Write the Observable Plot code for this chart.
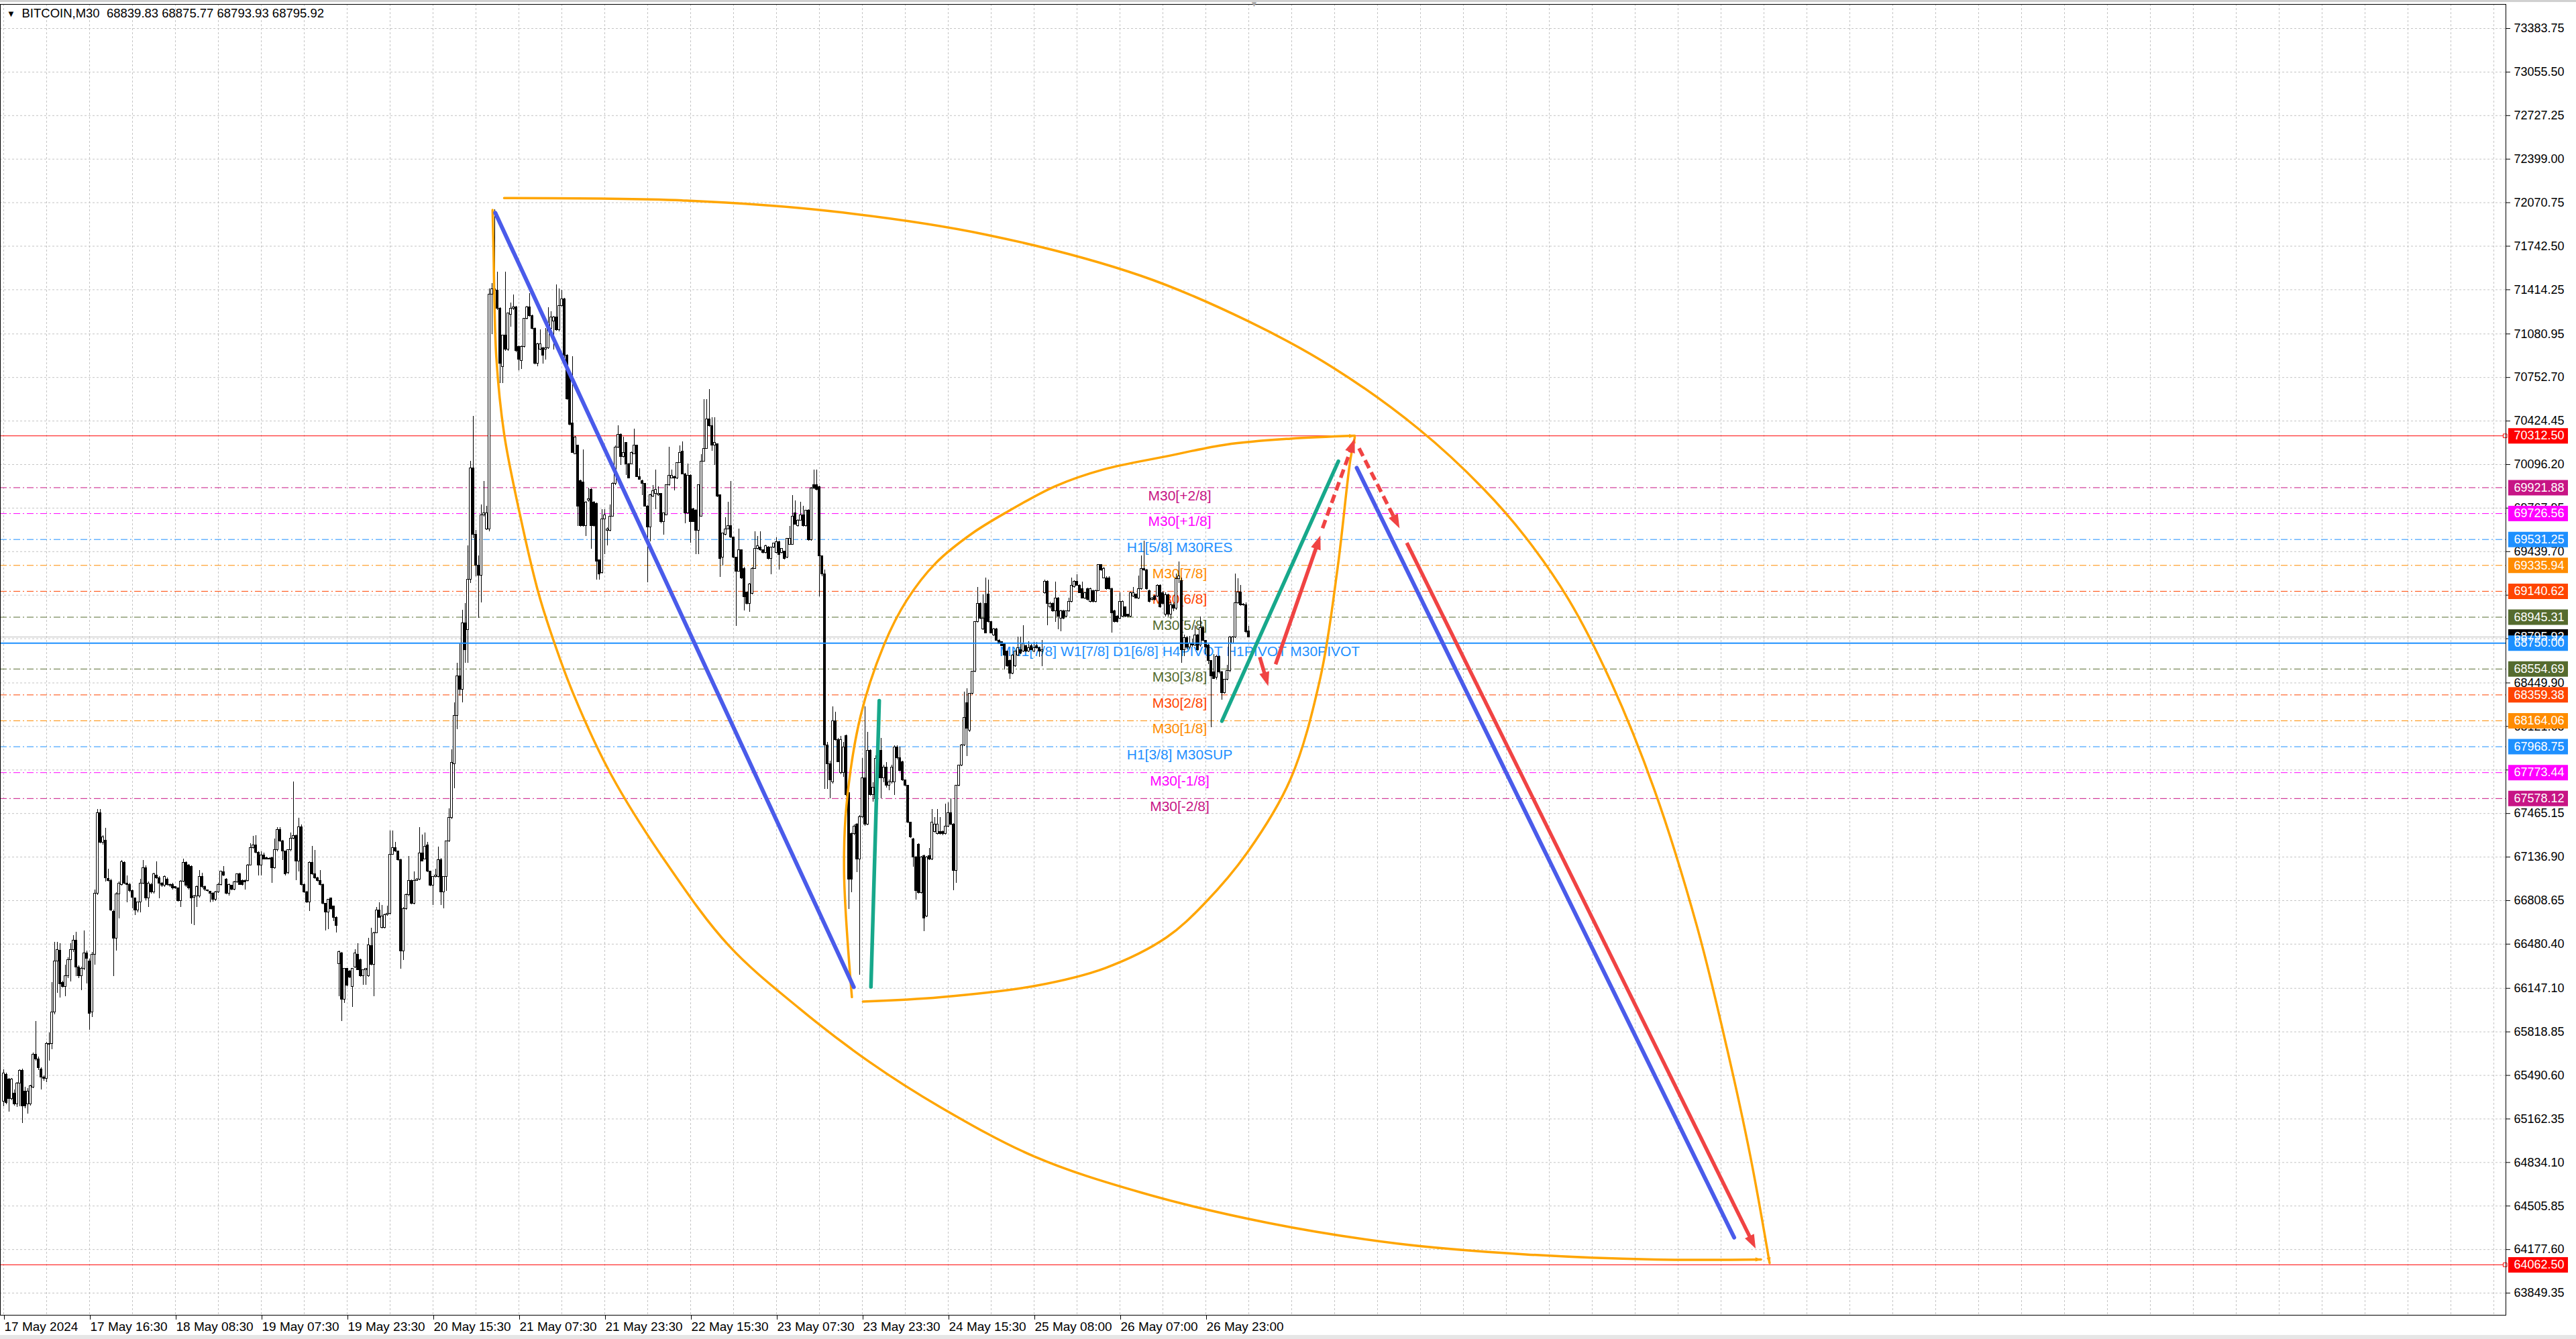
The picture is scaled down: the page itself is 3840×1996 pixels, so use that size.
<!DOCTYPE html>
<html><head><meta charset="utf-8">
<script src="https://cdn.jsdelivr.net/npm/d3@7"></script>
<script src="https://cdn.jsdelivr.net/npm/@observablehq/plot@0.6"></script>
<style>
html,body{margin:0;padding:0;background:#fff;}
body{width:3840px;height:1996px;overflow:hidden;position:relative;}
#chart{position:absolute;left:0;top:0;}
#topstrip{position:absolute;left:0;top:0;width:3840px;height:3px;background:#d0d0d0;}
#botstrip{position:absolute;left:0;top:1990px;width:3840px;height:6px;background:#e6e6e6;}
</style></head><body>
<div id="chart"></div>
<div id="topstrip"></div>
<div id="botstrip"></div>
<script>
// ---------- DATA ----------
const header = "BITCOIN,M30  68839.83 68875.77 68793.93 68795.92";
const firstBar = 1;
// M30 candles [open, high, low, close], bar index starts at firstBar
const candles = [
[65294,65535,65256,65506],[65496,65510,65270,65285],[65458,65470,65217,65313],[65313,65470,65300,65458],[65352,65380,65260,65275],
[65275,65440,65250,65429],[65429,65535,65256,65525],[65525,65540,65131,65256],[65371,65400,65240,65256],[65275,65390,65198,65371],
[65275,65420,65260,65410],[65400,65660,65390,65650],[65650,65900,65600,65612],[65612,65630,65530,65545],[65534,65550,65380,65477],
[65477,65490,65450,65467],[65467,65740,65440,65727],[65721,65813,65602,65727],[65727,66189,65688,65967],[65967,66496,65950,66352],
[66352,66496,66112,66439],[66433,66487,66073,66179],[66189,66200,66150,66160],[66160,66323,66083,66237],[66237,66380,66220,66362],
[66362,66487,66198,66439],[66439,66545,66420,66506],[66506,66573,66237,66304],[66304,66320,66220,66237],[66237,66310,66131,66295],
[66295,66583,66280,66410],[66410,66430,66179,66371],[66352,66370,65833,65958],[65967,66420,65929,66400],[66400,66891,66323,66862],
[66862,67497,66850,67468],[67468,67497,67240,67247],[67247,67300,67230,67285],[67260,67356,66949,66977],[66972,67045,66950,66958],
[66958,66970,66730,66737],[66727,66740,66237,66525],[66525,66870,66429,66856],[66856,66950,66670,66939],[66929,67112,66920,67097],
[67093,67100,66930,66939],[66939,66997,66795,66929],[66929,66940,66870,66881],[66881,66890,66747,66833],[66824,66830,66698,66737],
[66737,66800,66718,66795],[66795,66972,66718,66939],[66939,67112,66930,67054],[67054,67070,66810,66824],[66824,66950,66756,66939],
[66929,66940,66860,66872],[66872,67015,66860,67006],[66997,67102,66970,66977],[66977,66990,66824,66939],[66935,66945,66910,66920],
[66920,66995,66910,66987],[66968,66980,66920,66929],[66929,66935,66910,66920],[66929,66940,66890,66901],[66910,66915,66895,66901],
[66901,66905,66800,66805],[66805,66960,66756,66952],[66952,67122,66945,67093],[67093,67100,66910,66920],[67074,67080,66890,66901],
[67064,67070,66631,66824],[66833,66850,66621,66843],[66843,66920,66756,66910],[66843,67035,66830,66987],[66987,67016,66900,66910],
[66910,66920,66880,66891],[66885,66890,66875,66881],[66875,66880,66795,66862],[66862,66870,66800,66814],[66814,66880,66805,66872],
[66872,66940,66865,66929],[66929,67030,66920,67026],[67022,67064,66990,66997],[66968,66975,66855,66862],[66862,66935,66843,66929],
[66920,66925,66885,66891],[66891,66955,66885,66949],[66949,67010,66940,67006],[67006,67015,66925,66929],[66958,66965,66920,66929],
[66958,66965,66891,66949],[66958,67080,66950,67074],[67074,67237,67070,67208],[67208,67295,67200,67228],[67228,67299,67160,67170],
[67170,67180,66997,67074],[67074,67179,66997,67151],[67151,67170,67115,67122],[67131,67135,67115,67122],[67126,67130,67115,67122],
[67131,67135,66939,67054],[67054,67272,67045,67189],[67189,67362,67180,67343],[67343,67362,67250,67256],[67256,67265,67112,67179],
[67179,67185,66995,67006],[67016,67195,67005,67189],[67189,67318,67180,67276],[67276,67703,67270,67295],[67295,67305,66958,67102],
[67102,67430,67026,67362],[67362,67380,66920,66929],[66929,66935,66865,66872],[66872,66880,66790,66795],[66795,67100,66727,67093],
[67093,67218,67000,67006],[67006,67189,66970,66977],[66977,66985,66950,66958],[66958,67035,66920,66929],[66929,66935,66780,66785],
[66785,66790,66583,66718],[66718,66820,66592,66814],[66824,66830,66740,66747],[66766,66770,66650,66679],[66679,66685,66564,66621],
[66333,66429,66083,66419],[66410,66420,65900,66064],[66064,66300,66035,66295],[66295,66300,66160,66169],[66275,66280,66220,66227],
[66160,66300,66006,66295],[66304,66439,66300,66410],[66400,66487,66280,66285],[66362,66370,66230,66237],[66237,66285,66169,66285],
[66285,66300,66169,66295],[66237,66525,66230,66471],[66467,66602,66320,66323],[66323,66570,66083,66564],[66564,66756,66560,66733],
[66733,66795,66675,66679],[66602,66775,66595,66689],[66602,66705,66595,66698],[66698,66766,66690,66708],[66708,67337,66700,67156],
[67156,67333,67150,67208],[67208,67247,67175,67179],[67179,67185,67105,67112],[67112,67120,66295,66429],[66429,66760,66356,66747],
[66747,66860,66740,66849],[66849,67141,66840,66958],[66958,66965,66780,66785],[66785,67026,66780,66958],[66958,66975,66955,66968],
[66968,67362,66960,67166],[67166,67305,67100,67106],[67122,67318,67115,67218],[67228,67247,67020,67026],[67026,67030,66915,66920],
[66920,66990,66775,66987],[66987,67045,66980,66997],[66987,67212,66980,67116],[67116,67125,66775,66872],[66872,66990,66747,66987],
[66987,67260,66881,67256],[67256,67503,67250,67433],[67433,67945,67420,67849],[67837,68300,67651,68200],[68200,68600,68100,68500],
[68500,68750,68350,68400],[68400,69000,68300,68900],[68900,69050,68600,68700],[68850,69482,68600,69227],[69227,70121,69200,70068],
[70068,70462,69540,69567],[69567,69600,69250,69333],[69333,69408,68939,69259],[69259,69791,69056,69716],[69716,69972,69700,69727],
[69610,69780,69600,69727],[69610,71420,69590,71377],[71377,71462,71079,71420],[71420,72016,71300,71409],[71409,71547,71260,71271],
[71271,71280,70706,70855],[70834,71068,70706,71068],[71068,71547,70950,70962],[70962,71239,70950,71239],[71228,71313,71132,71271],
[71271,71377,71260,71281],[71281,71290,70940,70951],[70983,70990,70802,70887],[70877,70990,70813,70983],[70983,71200,70975,71196],
[71196,71292,71190,71281],[71281,71388,71210,71217],[71217,71225,71115,71122],[71122,71130,70850,70855],[70855,71010,70834,71004],
[70962,71111,70955,71004],[70973,70980,70855,70919],[70962,71122,70887,70973],[70973,71281,70965,71122],[71122,71249,71115,71207],
[71175,71215,70962,71207],[71207,71451,71105,71111],[71111,71420,71100,71292],[71292,71409,71285,71345],[71345,71350,70887,70919],
[70919,70925,70580,70589],[70792,70800,70390,70398],[70408,70909,70180,70185],[70174,70310,70170,70302],[70238,70245,69631,69780],
[69972,69980,69625,69631],[69961,70206,69625,69631],[69631,69820,69557,69812],[69823,69919,69815,69834],[69908,69915,69461,69631],
[69812,69820,69625,69631],[69802,69810,69227,69365],[69375,69380,69227,69269],[69280,69759,69270,69684],[69684,69759,69418,69716],
[69599,69620,69482,69610],[69599,69791,69590,69706],[69706,69960,69700,69950],[69950,70238,69940,70227],[70227,70387,70220,70323],
[70323,70330,70089,70153],[70153,70302,70145,70185],[70259,70265,70014,70100],[70100,70105,69990,69993],[70100,70190,70095,70185],
[70174,70366,70170,70238],[70238,70245,70000,70004],[70004,70068,69980,69983],[69972,69980,69865,69950],[69950,69955,69775,69780],
[69780,69790,69205,69621],[69621,69876,69514,69865],[69855,69940,69850,69897],[69876,70057,69759,69908],[69865,69929,69860,69876],
[69876,69880,69653,69663],[69663,69730,69567,69727],[69716,69945,69710,69940],[69940,70227,69935,70014],[69993,70057,69990,70014],
[70004,70010,69897,69993],[69993,70110,69985,70110],[70110,70238,70105,70185],[70195,70270,70020,70025],[70025,70030,69653,69727],
[69727,70100,69720,70014],[70014,70020,69503,69663],[69759,69765,69660,69663],[69748,69755,69418,69599],[69599,69945,69418,69940],
[69706,70174,69700,70121],[70121,70589,70115,70217],[70217,70589,70210,70440],[70440,70664,70380,70387],[70387,70451,70195,70238],
[70238,70451,70089,70259],[70249,70255,69850,69855],[69865,69870,69248,69386],[69397,69580,69333,69578],[69567,69695,69560,69610],
[69610,69812,69605,69631],[69631,69972,69540,69546],[69546,69550,69390,69397],[69397,69400,68875,69291],[69291,69610,69285,69450],
[69450,69455,69230,69237],[69312,69320,68992,69099],[69131,69135,69040,69046],[69046,69200,68982,69195],[69120,69320,69115,69312],
[69312,69589,69305,69461],[69461,69557,69455,69482],[69471,69589,69445,69450],[69450,69455,69425,69429],[69429,69490,69425,69482],
[69471,69480,69380,69386],[69386,69475,69269,69471],[69471,69505,69465,69503],[69429,69546,69425,69514],[69514,69520,69301,69418],
[69429,69465,69425,69461],[69440,69445,69380,69386],[69397,69540,69390,69535],[69493,69631,69488,69535],[69493,69865,69488,69706],
[69727,69823,69640,69642],[69631,69680,69625,69674],[69674,69812,69670,69716],[69716,69780,69625,69631],[69631,69750,69625,69748],
[69748,69755,69520,69525],[69525,69925,69520,69919],[69940,70057,69910,69919],[69940,70057,69900,69908],[69929,69935,69100,69408],
[69408,69410,69250,69269],[69269,69300,67646,67979],[67979,68000,67646,67840],[67840,67860,67577,67715],[67702,68270,67690,68159],
[68159,68230,68010,68020],[68020,68030,67850,67854],[67771,68050,67760,68020],[67771,68000,67740,67965],[68048,68060,67590,67604],
[67618,67625,66744,66966],[67313,67320,66869,66966],[67313,67380,67300,67368],[67382,67390,67022,67119],[67119,67450,66245,67438],
[67438,67882,67430,67729],[67729,68270,67370,67382],[67382,68076,67375,67937],[67937,67945,67600,67604],[67604,67700,67550,67660],
[67577,67900,67550,67880],[67880,67950,67720,67729],[67937,68034,67577,67729],[67729,67830,67700,67812],[67812,67850,67660,67674],
[67674,67720,67640,67702],[67702,67830,67690,67812],[67702,67975,67604,67965],[67965,67979,67870,67882],[67882,67965,67780,67785],
[67854,67860,67710,67715],[67715,67720,67670,67674],[67674,67680,67390,67396],[67396,67400,67280,67285],[67271,67280,67063,67133],
[67133,67140,66814,66883],[67230,67240,66860,66869],[66869,67140,66860,67133],[67146,67150,66578,66675],[66689,67140,66680,67133],
[67146,67202,67110,67119],[67119,67494,67110,67396],[67327,67438,67320,67382],[67313,67494,67305,67382],[67327,67438,67305,67313],
[67327,67335,67300,67313],[67313,67535,67305,67368],[67368,67549,67360,67466],[67466,67577,67375,67382],[67382,67390,66883,67036],
[67036,67680,66939,67674],[67674,67830,67670,67826],[67826,67985,67820,67979],[67979,68381,67970,68187],[68298,68409,67896,68104],
[68090,68370,68080,68367],[68367,68540,68360,68534],[68534,68910,68530,68908],[68908,69172,68900,69047],[69047,69055,68930,68936],
[68853,69116,68845,68936],[69047,69241,68820,68825],[69116,69227,68900,68908],[68908,68915,68820,68825],[68811,68860,68800,68853],
[68853,68860,68765,68769],[68769,68775,68740,68742],[68756,68760,68725,68728],[68742,68750,68548,68658],[68686,68690,68570,68575],
[68617,68625,68478,68520],[68520,68665,68515,68658],[68575,68690,68570,68686],[68658,68797,68650,68714],[68700,68797,68665,68672],
[68686,68880,68680,68742],[68728,68735,68680,68686],[68686,68760,68680,68714],[68728,68740,68695,68700],[68686,68756,68680,68714],
[68728,68756,68705,68714],[68714,68720,68645,68686],[68686,68769,68575,68700],[69130,69227,69120,69213],[69213,69220,68880,69047],
[69019,69060,69010,69047],[69047,69055,68985,68992],[68992,69213,68908,69089],[69089,69095,68853,68950],[68936,69000,68839,68992],
[68992,68998,68930,68936],[68950,68995,68945,68992],[68992,69089,68985,69061],[69061,69241,69055,69185],[69172,69220,69165,69213],
[69213,69269,69180,69185],[69185,69190,69125,69130],[69158,69213,69085,69089],[69089,69135,69080,69130],[69158,69165,69070,69075],
[69061,69165,69055,69158],[69144,69150,69055,69061],[69061,69150,69055,69144],[69144,69345,69140,69338],[69338,69345,69290,69297],
[69241,69320,69235,69311],[69241,69250,69150,69158],[69241,69250,69150,69158],[69158,69165,68825,68977],[68992,69000,68900,68908],
[68950,68960,68900,68908],[68936,69130,68930,69061],[68950,69070,68945,69061],[69019,69025,68945,68950],[68964,68970,68945,68950],
[68950,69135,68945,69130],[69102,69172,69095,69130],[69116,69120,69085,69089],[69089,69255,69080,69158],[69158,69407,69150,69311],
[69311,69518,69290,69297],[69297,69305,69150,69158],[69144,69150,69055,69061],[69075,69095,69070,69089],[69102,69110,69070,69075],
[69102,69190,69095,69185],[69185,69190,69015,69019],[69130,69140,69040,69047],[68968,69130,68950,69110],[69110,69120,68950,68968],
[68968,69060,68930,69035],[69035,69050,68990,69010],[69010,69270,69000,69236],[69236,69362,69200,69253],[69219,69240,68600,68700],
[68700,68810,68650,68790],[68790,68800,68700,68716],[68716,68800,68700,68750],[68750,68780,68720,68733],[68733,68884,68725,68808],
[68808,68815,68690,68700],[68733,68950,68720,68867],[68867,68875,68760,68766],[68766,68770,68666,68716],[68733,68740,68590,68616],
[68616,68620,68112,68498],[68532,68666,68480,68481],[68490,68660,68470,68649],[68649,68655,68520,68532],[68532,68540,68322,68372],
[68372,68480,68365,68473],[68473,68582,68465,68540],[68540,68800,68530,68792],[68750,68800,68745,68792],[68792,69270,68785,69052],
[69052,69236,69045,69135],[69135,69186,69030,69035],[69043,69050,69030,69035],[69035,69052,68820,68834],[68839.83,68875.77,68793.93,68795.92]
];

// price axis ticks (right)
const yTicks = [73383.75,73055.50,72727.25,72399.00,72070.75,71742.50,71414.25,71080.95,70752.70,70424.45,70096.20,69767.95,69439.70,69111.45,
  68783.20,68449.90,68121.65,67793.40,67465.15,67136.90,66808.65,66480.40,66147.10,65818.85,65490.60,65162.35,64834.10,64505.85,64177.60,63849.35];
// time axis: bar index of each label and its text
const xTickBars = [1,33,65,97,129,161,193,225,257,289,321,353,385,417,449];
const xTickLabels = ["17 May 2024","17 May 16:30","18 May 08:30","19 May 07:30","19 May 23:30","20 May 15:30","21 May 07:30",
  "21 May 23:30","22 May 15:30","23 May 07:30","23 May 23:30","24 May 15:30","25 May 08:00","26 May 07:00","26 May 23:00"];

// Murrey math levels
const levelValues = [69921.88,69726.56,69531.25,69335.94,69140.62,68945.31,68750.00,68554.69,68359.38,68164.06,67968.75,67773.44,67578.12];
const levelColors = ["#c71585","#ff00ff","#1e90ff","#ff8c00","#ff4500","#556b2f","#1e90ff","#556b2f","#ff4500","#ff8c00","#1e90ff","#ff00ff","#c71585"];
const levelLabels = ["M30[+2/8]","M30[+1/8]","H1[5/8] M30RES","M30[7/8]","M30[6/8]","M30[5/8]","MN1[7/8] W1[7/8] D1[6/8] H4PIVOT H1PIVOT M30PIVOT",
  "M30[3/8]","M30[2/8]","M30[1/8]","H1[3/8] M30SUP","M30[-1/8]","M30[-2/8]"];
const pivotValue = 68750.00;
const labelBar = 439.25;
const targetLines = [70312.50, 64062.50];
const bidPrice = 68795.92;

// right-axis price boxes (drawn in this order)
const boxValues = [70312.50,69921.88,69726.56,69531.25,69335.94,69140.62,68945.31,68795.92,68750.00,68554.69,68359.38,68164.06,67968.75,67773.44,67578.12,64062.50];
const boxColors = ["#ff0000","#c71585","#ff00ff","#1e90ff","#ff8c00","#ff4500","#556b2f","#000000","#1e90ff","#556b2f","#ff4500","#ff8c00","#1e90ff","#ff00ff","#c71585","#ff0000"];

// drawn objects: [bar, price] points
const arcOuterTop = [[187.5,72105],[255.4,72086],[309.75,72005],[367,71830],[424.75,71520],[464.6,71179],[496.5,70826],[528.4,70363],
  [552.3,69917],[568.25,69546],[584.2,69079],[600.1,68452],[616.1,67647],[632,66617],[643.2,65696],[651.95,64879],[659.1,64076]];
const arcOuterBottom = [[183.2,72016],[183.5,71754],[184.6,70903],[187.5,70328],[193.25,69732],[199.9,69157],[204.7,68842],[213.3,68367],
  [227.4,67757],[248.4,67080],[271.2,66470],[297.5,65996],[323.8,65590],[350.1,65251],[385.2,64878],[424.75,64608],[472.6,64377],
  [520.4,64223],[568.25,64141],[616.1,64103],[655.9,64103]];
const arcInnerUpper = [[317.1,66081],[314.2,67012],[315.05,67520],[320.3,68197],[329.1,68739],[337.6,69075],[348.3,69352],[361.7,69574],
  [375.1,69741],[393,69934],[410.8,70059],[434.75,70160],[456.6,70247],[480.55,70291],[504.5,70313]];
const arcInnerLower = [[321.2,66047],[350.1,66080],[385.2,66165],[411.5,66300],[434.3,66530],[448.7,66791],[464.6,67175],[480.55,67724],
  [491.7,68491],[498.1,69315],[502.9,70138],[504.5,70300]];
// segments [bar1, price1, bar2, price2]
const blueLines = [[184.2,71994,317.8,66156],[505.25,70071,645.9,64268]];
const greenLines = [[324.2,66158,327.3,68316],[455,68162,498.4,70121]];
const redSolidArrows = [[469.1,68645,472.25,68426],[475,68590,491.7,69561],[523.9,69506,653.9,64185]];
const redDashedArrows = [[492.5,69616,504.5,70291],[506.1,70219,521.2,69616]];

// ---------- LAYOUT / SCALES ----------
const W = 3840, H = 1996;
const mTop = 6, mBottom = 36, mLeft = 0, mRight = 105;
const xDomain = [-0.25, 933.5];
const yDomain = [63682.65, 73565.85];
const xS = Plot.scale({x: {domain: xDomain, range: [mLeft, W - mRight]}});
const yS = Plot.scale({y: {domain: yDomain, range: [H - mBottom, mTop]}});

const RED = "#f04343", BLUE = "#4a5bea", GREEN = "#17a88b", ORANGE = "#ffa500";

const bars = candles.map((d, k) => ({i: firstBar + k, o: d[0], h: d[1], l: d[2], c: d[3]}));
const gridBars = d3.range(1, 934, 16);
const levels = levelValues.map((v, k) => ({v, color: levelColors[k], label: levelLabels[k]}));
const dashLevels = levels.filter(d => d.v !== pivotValue);
const boxes = boxValues.map((v, k) => ({v, color: boxColors[k], text: v.toFixed(2)}));
const labelMap = new Map(xTickBars.map((b, k) => [b, xTickLabels[k]]));

// arrowhead: tip at origin, pointing up
const headSymbol = {draw(ctx, size) {
  const r = Math.sqrt(size / Math.PI), L = 2.6 * r, w = 0.95 * r;
  ctx.moveTo(0, 0); ctx.lineTo(-w, L); ctx.lineTo(w, L); ctx.closePath();
}};
function splitArrow(s, headPx) {
  const [a, b, c, d] = s;
  const p1x = xS.apply(a), p1y = yS.apply(b), p2x = xS.apply(c), p2y = yS.apply(d);
  const len = Math.hypot(p2x - p1x, p2y - p1y);
  const ux = (p2x - p1x) / len, uy = (p2y - p1y) / len;
  return {
    shaft: {x1: a, y1: b, x2: xS.invert(p2x - ux * headPx), y2: yS.invert(p2y - uy * headPx)},
    head: {x: c, y: d, rotate: Math.atan2(ux, -uy) * 180 / Math.PI}
  };
}
const solidParts = redSolidArrows.map(s => splitArrow(s, 14));
const dashedParts = redDashedArrows.map(s => splitArrow(s, 14));
const arcs = [arcOuterTop, arcOuterBottom, arcInnerUpper, arcInnerLower];
const arcHeads = arcs.map(a => {
  const p = a[a.length - 2], q = a[a.length - 1];
  return splitArrow([p[0], p[1], q[0], q[1]], 6).head;
});

const seg = s => ({x1: s[0], y1: s[1], x2: s[2], y2: s[3]});

const chart = Plot.plot({
  width: W, height: H,
  marginTop: mTop, marginBottom: mBottom, marginLeft: mLeft, marginRight: mRight,
  x: {type: "linear", domain: xDomain, axis: null},
  y: {type: "linear", domain: yDomain, axis: null},
  color: {type: "identity"},
  style: {background: "white", fontFamily: "'Liberation Sans', Arial, sans-serif", color: "black"},
  marks: [
    // grid
    Plot.ruleY(yTicks, {y: d => d, stroke: "#c4c4c4", strokeDasharray: "3,3"}),
    Plot.ruleX(gridBars, {x: d => d, stroke: "#c4c4c4", strokeDasharray: "3,3"}),
    // bid line and levels
    Plot.ruleY([bidPrice], {y: d => d, stroke: "#c0c0c0", strokeWidth: 1}),
    Plot.ruleY(dashLevels, {y: "v", stroke: "color", strokeWidth: 1, strokeDasharray: "10,4,2,4"}),
    Plot.ruleY(targetLines, {y: d => d, stroke: "#ff0000", strokeWidth: 1}),
    // level labels
    Plot.text(levels, {x: labelBar, y: "v", text: "label", fill: "color", fontSize: 21, textAnchor: "middle", lineAnchor: "top", dy: 4}),
    // candles
    Plot.ruleX(bars, {x: "i", y1: "l", y2: "h", stroke: "black", strokeWidth: 1, shapeRendering: "crispEdges"}),
    Plot.rect(bars, {x1: d => d.i - 0.375, x2: d => d.i + 0.375, y1: d => Math.min(d.o, d.c), y2: d => Math.max(d.o, d.c),
      fill: d => d.c >= d.o ? "white" : "black", stroke: "black", strokeWidth: 1, shapeRendering: "crispEdges"}),
    // pivot line on top of candles
    Plot.ruleY([pivotValue], {y: d => d, stroke: "#1e90ff", strokeWidth: 2}),
    // orange arcs
    ...arcs.map(a => Plot.line(a, {x: d => d[0], y: d => d[1], stroke: ORANGE, strokeWidth: 3.5, curve: "catmull-rom"})),
    Plot.dot(arcHeads, {x: "x", y: "y", rotate: "rotate", symbol: headSymbol, r: 3.2, fill: ORANGE, stroke: "none"}),
    // straight lines
    Plot.link(blueLines.map(seg), {x1: "x1", y1: "y1", x2: "x2", y2: "y2", stroke: BLUE, strokeWidth: 6, strokeLinecap: "round"}),
    Plot.link(greenLines.map(seg), {x1: "x1", y1: "y1", x2: "x2", y2: "y2", stroke: GREEN, strokeWidth: 5.5, strokeLinecap: "round"}),
    Plot.link(solidParts.map(p => p.shaft), {x1: "x1", y1: "y1", x2: "x2", y2: "y2", stroke: RED, strokeWidth: 5.5}),
    Plot.link(dashedParts.map(p => p.shaft), {x1: "x1", y1: "y1", x2: "x2", y2: "y2", stroke: RED, strokeWidth: 5.5, strokeDasharray: "13,7"}),
    Plot.dot([...solidParts, ...dashedParts].map(p => p.head), {x: "x", y: "y", rotate: "rotate", symbol: headSymbol, r: 8, fill: RED, stroke: "none"}),
    // end markers of the red lines
    Plot.dot(targetLines, {x: 933.2, y: d => d, symbol: "square", r: 3.2, stroke: "#ff0000", fill: "white", strokeWidth: 1}),
    // axes
    Plot.axisY(yTicks, {anchor: "right", tickSize: 6, tickPadding: 6, tickFormat: d => d.toFixed(2), fontSize: 18, label: null}),
    Plot.axisX(xTickBars, {anchor: "bottom", tickSize: 7, tickPadding: 3, tickFormat: d => labelMap.get(d), textAnchor: "start", dx: 1, fontSize: 19, label: null}),
    // price boxes on the right axis
    Plot.ruleY(boxes, {y: "v", x1: 934.5, x2: 956.75, stroke: "color", strokeWidth: 23}),
    Plot.text(boxes, {x: 936.5, y: "v", text: "text", fill: "white", fontSize: 18, textAnchor: "start"}),
    Plot.frame({stroke: "black", strokeWidth: 1}),
    // header and chart-shift marker
    Plot.text(["\u25BC"], {frameAnchor: "top-left", dx: 16, dy: 14, fontSize: 13, textAnchor: "middle", lineAnchor: "middle", fill: "black"}),
    Plot.text([header], {frameAnchor: "top-left", dx: 32, dy: 14, fontSize: 18.5, textAnchor: "start", lineAnchor: "middle", fill: "black"}),
    Plot.text(["\u25BC"], {x: 467, frameAnchor: "top", dy: 0, fontSize: 12, textAnchor: "middle", lineAnchor: "middle", fill: "#a8a8a8"})
  ]
});
document.getElementById("chart").appendChild(chart);
</script>
</body></html>
